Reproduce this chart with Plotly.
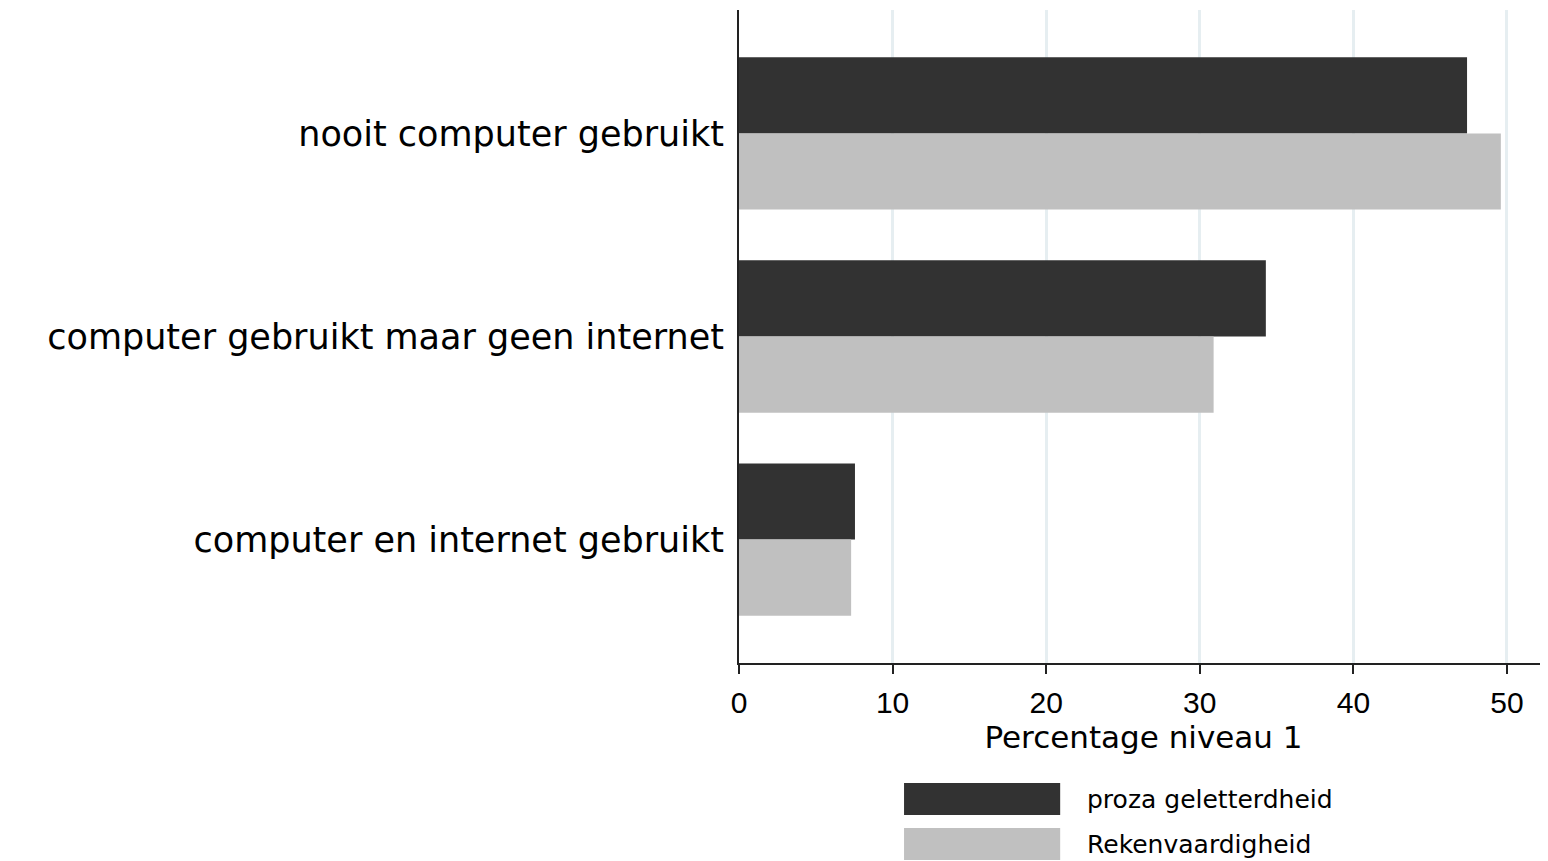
import plotly.graph_objects as go

categorieen = [
    "nooit computer gebruikt",
    "computer gebruikt maar geen internet",
    "computer en internet gebruikt",
]
proza = [47.4, 34.3, 7.55]
rekenen = [49.6, 30.9, 7.3]
series = ["proza geletterdheid", "Rekenvaardigheid"]
kleuren = ["#323232", "#c0c0c0"]
x_ticks = [0, 10, 20, 30, 40, 50]

fig = go.Figure()
for naam, waarden, kleur in zip(series, [proza, rekenen], kleuren):
    fig.add_trace(
        go.Bar(
            y=categorieen,
            x=waarden,
            name=naam,
            orientation="h",
            marker=dict(color=kleur, line=dict(width=0)),
            showlegend=False,
        )
    )

breed = "DejaVu Sans, Liberation Sans, Arial"
smal = "Liberation Sans, Arial"

# de pagina heeft 8px marge rond de figuur
fig.update_layout(
    width=1540,
    height=853,
    barmode="group",
    bargap=0.25,
    bargroupgap=0,
    plot_bgcolor="white",
    paper_bgcolor="white",
    margin=dict(l=731, r=0, t=2, b=198),
    font=dict(family=smal, color="black"),
)

fig.update_xaxes(
    range=[0, 52.67],
    tickvals=x_ticks,
    ticks="outside",
    ticklen=9,
    tickwidth=1.5,
    tickcolor="#222",
    tickfont=dict(size=30, family=smal),
    ticklabelstandoff=3,
    showline=True,
    linecolor="#222",
    linewidth=2,
    showgrid=True,
    gridcolor="#e6eef1",
    gridwidth=3,
    zeroline=False,
    title=dict(text="Percentage niveau 1", font=dict(size=31, family=breed), standoff=0),
)

fig.update_yaxes(
    categoryorder="array",
    categoryarray=categorieen,
    range=[2.608, -0.608],
    showline=True,
    linecolor="#222",
    linewidth=2,
    ticks="",
    showgrid=False,
    tickfont=dict(size=35, family=breed),
    ticklabelstandoff=6,
)

# legenda onder de grafiek
for i, (naam, kleur) in enumerate(zip(series, kleuren)):
    y0 = -0.1838 - i * 0.0689
    fig.add_shape(
        type="rect",
        xref="paper",
        yref="paper",
        x0=0.204,
        x1=0.397,
        y0=y0 - 0.049,
        y1=y0,
        fillcolor=kleur,
        line=dict(width=0),
    )
    fig.add_annotation(
        text=naam,
        xref="paper",
        yref="paper",
        x=0.428,
        y=y0 - 0.0245,
        xanchor="left",
        yanchor="middle",
        showarrow=False,
        font=dict(size=25, family=breed),
    )

fig.write_html("out.html")
